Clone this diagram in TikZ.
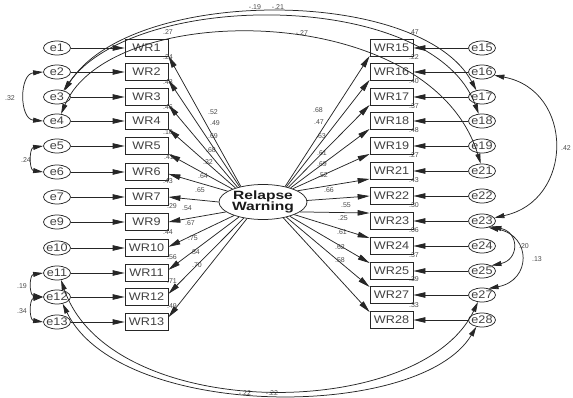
\documentclass[tikz,border=0pt]{standalone}
\usepackage{fontspec}
\setmainfont{Liberation Sans}
\newfontfamily\wfont[FakeStretch=1.15]{Liberation Sans}
\newfontfamily\latfont[FakeStretch=1.3]{Liberation Sans}
\usetikzlibrary{arrows.meta,shapes.geometric}

\begin{document}
\begin{tikzpicture}[x=1pt,y=-1pt,
  lw/.style={line width=0.75pt, draw=black!85},
  ind/.style={lw, rectangle, minimum width=43pt, minimum height=17pt, inner sep=0pt,
    font=\wfont\fontsize{11}{11}\selectfont, text=black!75},
  errtxt/.style={font=\wfont\fontsize{11}{11}\selectfont, text=black!75, inner sep=0pt},
  err/.style={lw, ellipse, minimum width=27pt, minimum height=14pt, inner sep=0pt,
    label={[errtxt]center:#1}},
  lat/.style={lw, ellipse, minimum width=88pt, minimum height=35pt, inner sep=0pt},
  num/.style={font=\fontsize{7}{7}\selectfont, text=black!70, inner sep=0pt},
  pth/.style={lw, -{Triangle[length=12pt,width=5.5pt]}},
  cov/.style={lw, {Triangle[length=10pt,width=5pt]}-{Triangle[length=10pt,width=5pt]}}
]
\useasboundingbox (0,0) rectangle (573,398);

% latent factor
\node[lat] (RW) at (263,202) {};
\node[font=\latfont\bfseries\fontsize{12}{11.5}\selectfont, align=center, inner sep=0pt, text=black!90]
  (RWtxt) at (RW.center) {Relapse\\Warning};

% left indicators with their error terms
\foreach \n/\y in {1/48,2/72,3/97,4/121,5/146,6/172,7/197,9/222,10/248,11/273,12/297,13/322}{
  \node[ind] (WR\n) at (146.5,\y) {WR\n};
  \node[err={e\n}] (e\n) at (57,\y) {};
}
% right indicators with their error terms
\foreach \n/\y in {15/48,16/72,17/97,18/121,19/146,21/171,22/196,23/221,24/246,25/271,27/295,28/320}{
  \node[ind] (WR\n) at (391.5,\y) {WR\n};
  \node[err={e\n}] (e\n) at (482,\y) {};
}

% squared multiple correlations
\foreach \n/\v/\x/\y in {1/.27/168/32,2/.24/168/57,3/.48/168/82,4/.46/168/107,5/.10/168/132,
  6/.41/169/157,7/.43/168/181,9/.29/172/206,10/.44/168/232,11/.56/172/257,12/.71/172/281,13/.49/172/306}{
  \node[num] (r\n) at (\x,\y) {\v};
}
\foreach \n/\v/\y in {15/.47/32,16/.22/57,17/.40/81,18/.37/106,19/.48/130,21/.27/155,
  22/.43/180,23/.30/205,24/.06/230,25/.37/255,27/.39/279,28/.33/305}{
  \node[num] (r\n) at (414,\y) {\v};
}

% standardized loadings
\foreach \n/\v/\x/\y in {1/.52/213/112,2/.49/215/123,3/.69/213/136,4/.68/211/150,5/.32/208/162,
  6/.64/203/176,7/.65/200/190,9/.54/187/208,10/.67/190/223,11/.75/193/238,12/.84/195/252,13/.70/197/265}{
  \node[num] (l\n) at (\x,\y) {\v};
}
\foreach \n/\v/\x/\y in {15/.68/318/110,16/.47/319/122,17/.63/321/136,18/.61/322/153,19/.69/322/164,
  21/.52/323/175,22/.66/329/190,23/.55/346/205,24/.25/343/218,25/.61/342/232,27/.62/340/247,28/.58/340/260}{
  \node[num] (l\n) at (\x,\y) {\v};
}

% covariance labels
\node[num] (c1) at (10,98) {.32};
\node[num] (c2) at (26,160) {.24};
\node[num] (c3) at (22,286) {.19};
\node[num] (c4) at (22,311) {.34};
\node[num] (c5) at (566,148) {.42};
\node[num] (c6) at (524,246) {.20};
\node[num] (c7) at (537,259) {.13};
\node[num] (c8) at (255,7) {-.19};
\node[num] (c9) at (278,7) {-.21};
\node[num] (c10) at (302,33) {-.27};
\node[num] (c11) at (245,393) {-.22};
\node[num] (c12) at (272,393) {-.22};

% error terms into indicators
\foreach \n in {1,2,3,4,5,6,7,9,10,11,12,13,15,16,17,18,19,21,22,23,24,25,27,28}{
  \draw[pth] (e\n) -- (WR\n);
}

% factor loadings
\foreach \n/\s/\t in {1/145/-20,2/147/-20,3/150/-20,4/153/-20,5/157/-20,6/163/-5,7/180/0,
  9/195/0,10/205/3,11/212/8,12/220/8,13/226/12}{
  \draw[pth] (RW.\s) -- (WR\n.\t);
}
\foreach \n/\s/\t in {15/35/200,16/33/200,17/30/200,18/27/200,19/24/200,21/18/200,22/2/180,
  23/-15/160,24/-22/160,25/-28/160,27/-33/160,28/-38/160}{
  \draw[pth] (RW.\s) -- (WR\n.\t);
}

% covariances between error terms
\draw[cov] (e2.west) .. controls +(-24,2) and +(-24,-2) .. (e4.west);
\draw[cov] (e5.west) .. controls +(-14,2) and +(-14,-2) .. (e6.west);
\draw[cov] (e11.west) .. controls +(-14,2) and +(-14,-2) .. (e12.west);
\draw[cov] (e12.west) .. controls +(-14,2) and +(-14,-2) .. (e13.west);
\draw[cov] (e16.-15) .. controls +(80,15) and +(80,-17) .. (e23.15);
\draw[cov] (e23.-30) .. controls +(28,6) and +(28,-6) .. (e25.30);
\draw[cov] (e23.-45) .. controls +(43,8) and +(43,-8) .. (e27.45);
\draw[cov] (e3.40) .. controls (130,-14) and (420,-14) .. (e17.130);
\draw[cov] (e3.45) .. controls (135,-11) and (432,-11) .. (e18.115);
\draw[cov] (e4.60) .. controls (110,-1) and (430,-1) .. (e21.100);
\draw[cov] (e11.-60) .. controls (110,423) and (420,423) .. (e27.-120);
\draw[cov] (e12.-50) .. controls (120,421) and (420,421) .. (e28.-130);
\end{tikzpicture}
\end{document}
